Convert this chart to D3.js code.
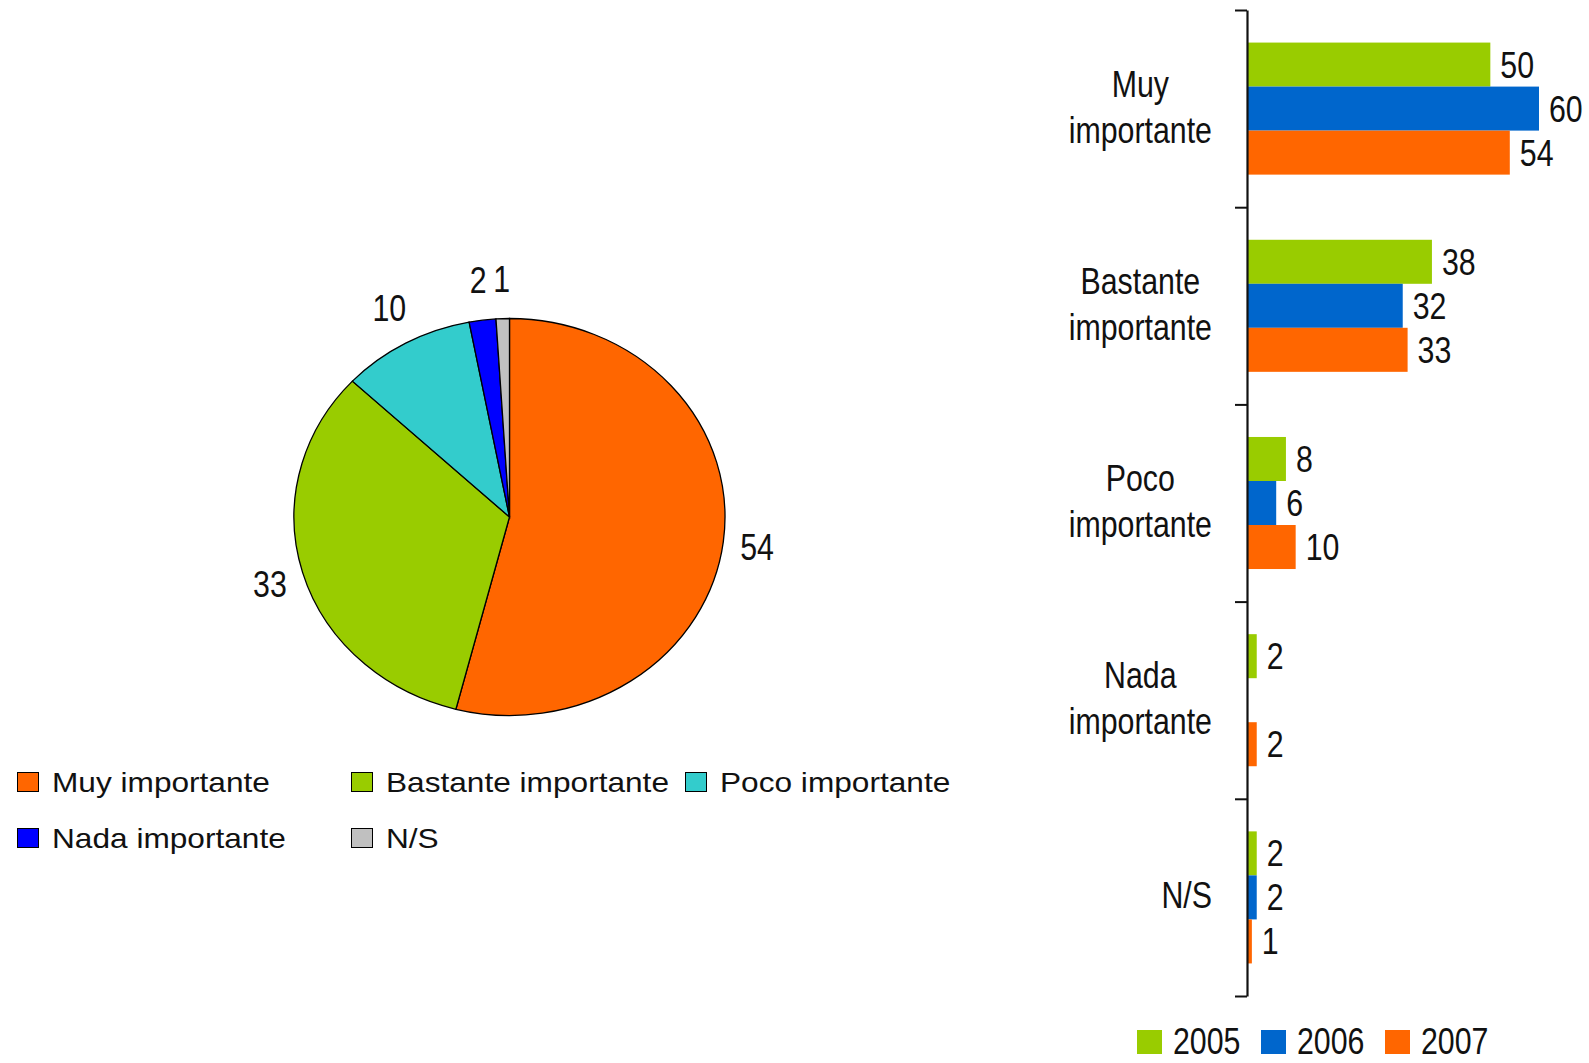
<!DOCTYPE html>
<html>
<head>
<meta charset="utf-8">
<script src="https://cdn.jsdelivr.net/npm/d3@7"></script>
<style>
  html, body { margin: 0; padding: 0; background: #fff; }
  svg { display: block; }
  .narrow { font-family: "Liberation Sans", Arial, sans-serif; font-size: 37px; fill: #111; }
  .leg { font-family: "Liberation Sans", Arial, sans-serif; font-size: 28.5px; fill: #111; }
</style>
</head>
<body>
<svg id="chart" width="1589" height="1063"></svg>
<script>
// pie (2007)
var pieNames = ["Muy importante", "Bastante importante", "Poco importante", "Nada importante", "N/S"];
var pieValues = [54, 33, 10, 2, 1];
var pieColors = ["#FF6600", "#99CC00", "#33CCCC", "#0000FF", "#C0C0C0"];

// bars by year
var categories = ["Muy importante", "Bastante importante", "Poco importante", "Nada importante", "N/S"];
var years = ["2005", "2006", "2007"];
var v2005 = [50, 38, 8, 2, 2];
var v2006 = [60, 32, 6, null, 2];
var v2007 = [54, 33, 10, 2, 1];
var yearColors = ["#99CC00", "#0066CC", "#FF6600"];

var NARROW = 0.82; // no narrow font installed, squeeze the regular one
function squeeze(px, py) { return "translate(" + px + "," + py + ") scale(" + NARROW + ",1)"; }

var svg = d3.select("#chart");
svg.append("rect").attr("width", 1589).attr("height", 1063).attr("fill", "#fff");

// ---------- pie ----------
var cx = 509.5, cy = 517, rx = 215.5, ry = 198.5;
var pie = d3.pie().sort(null).value(function(d) { return d; });
var arc = d3.arc().innerRadius(0).outerRadius(ry);
var slices = pie(pieValues);

var pg = svg.append("g").attr("transform", "translate(" + cx + "," + cy + ") scale(" + (rx / ry) + ",1)");
pg.selectAll("path")
  .data(slices)
  .enter()
  .append("path")
  .attr("d", arc)
  .attr("fill", function(d, i) { return pieColors[i]; })
  .attr("stroke", "#000")
  .attr("stroke-width", 1.3)
  .attr("vector-effect", "non-scaling-stroke");

svg.selectAll("text.pielab")
  .data(slices)
  .enter()
  .append("text")
  .attr("class", "narrow pielab")
  .attr("text-anchor", "middle")
  .attr("transform", function(d) {
    var a = (d.startAngle + d.endAngle) / 2;
    return squeeze(cx + (rx + 34) * Math.sin(a), cy - (ry + 40) * Math.cos(a) + 13);
  })
  .text(function(d) { return d.data; });

// pie legend
var legCols = [17, 351, 685];
var legRows = [772, 828];
var lg = svg.selectAll("g.pleg")
  .data(pieNames)
  .enter()
  .append("g")
  .attr("class", "pleg")
  .attr("transform", function(d, i) {
    var c = i < 3 ? i : i - 3, r = i < 3 ? 0 : 1;
    return "translate(" + legCols[c] + "," + legRows[r] + ")";
  });
lg.append("rect")
  .attr("x", 0.5).attr("y", 0.5)
  .attr("width", 21).attr("height", 19)
  .attr("fill", function(d, i) { return pieColors[i]; })
  .attr("stroke", "#000").attr("stroke-width", 1);
lg.append("text")
  .attr("class", "leg")
  .attr("transform", "translate(35,20) scale(1.11,1)")
  .text(function(d) { return d; });

// ---------- bars ----------
var axisX = 1247;
var x = d3.scaleLinear().domain([0, 60]).range([axisX, 1539]);
var y = d3.scaleBand().domain(categories).range([10, 996]).paddingInner(0).paddingOuter(0);
var ys = d3.scaleBand().domain(years).range([0, y.bandwidth()]).paddingInner(0).paddingOuter(0.74);

var series = [v2005, v2006, v2007];
var rows = [];
categories.forEach(function(c, ci) {
  years.forEach(function(yr, yi) {
    if (series[yi][ci] != null) rows.push({ cat: c, year: yr, yi: yi, v: series[yi][ci] });
  });
});

svg.selectAll("rect.bar")
  .data(rows)
  .enter()
  .append("rect")
  .attr("class", "bar")
  .attr("x", axisX)
  .attr("y", function(d) { return y(d.cat) + ys(d.year); })
  .attr("width", function(d) { return x(d.v) - axisX; })
  .attr("height", ys.bandwidth())
  .attr("fill", function(d) { return yearColors[d.yi]; });

svg.selectAll("text.val")
  .data(rows)
  .enter()
  .append("text")
  .attr("class", "narrow val")
  .attr("transform", function(d) {
    return squeeze(x(d.v) + 10, y(d.cat) + ys(d.year) + ys.bandwidth() / 2 + 13);
  })
  .text(function(d) { return d.v; });

// axis with ticks at category boundaries
var edge = d3.scaleLinear().domain([0, categories.length]).range([10, 996]);
var ax = svg.append("g")
  .attr("transform", "translate(" + axisX + ",0)")
  .call(d3.axisLeft(edge).ticks(categories.length).tickSize(12).tickSizeOuter(0).tickFormat(""));
ax.select(".domain").attr("stroke", "#111").attr("stroke-width", 2.2);
ax.selectAll(".tick line").attr("stroke", "#111").attr("stroke-width", 2);

// category labels, lines centred in a right-aligned block
var labRight = 1212;
categories.forEach(function(c) {
  var lines = c === "N/S" ? [c] : c.split(" ");
  var cyb = y(c) + y.bandwidth() / 2;
  var t = svg.append("text").attr("class", "narrow").attr("text-anchor", "middle");
  var spans = lines.map(function(l, i) {
    return t.append("tspan")
      .attr("x", 0)
      .attr("y", cyb + 11 + (i - (lines.length - 1) / 2) * 46)
      .text(l);
  });
  var w = d3.max(spans, function(s) { return s.node().getComputedTextLength(); }) * NARROW;
  t.attr("transform", squeeze(labRight - w / 2, 0));
});

// bar legend
var bl = svg.selectAll("g.bleg")
  .data(years)
  .enter()
  .append("g")
  .attr("class", "bleg")
  .attr("transform", function(d, i) { return "translate(" + (1137 + i * 124) + ",1030)"; });
bl.append("rect")
  .attr("width", 25).attr("height", 24)
  .attr("fill", function(d, i) { return yearColors[i]; });
bl.append("text")
  .attr("class", "narrow")
  .attr("transform", squeeze(36, 24))
  .text(function(d) { return d; });
</script>
</body>
</html>
